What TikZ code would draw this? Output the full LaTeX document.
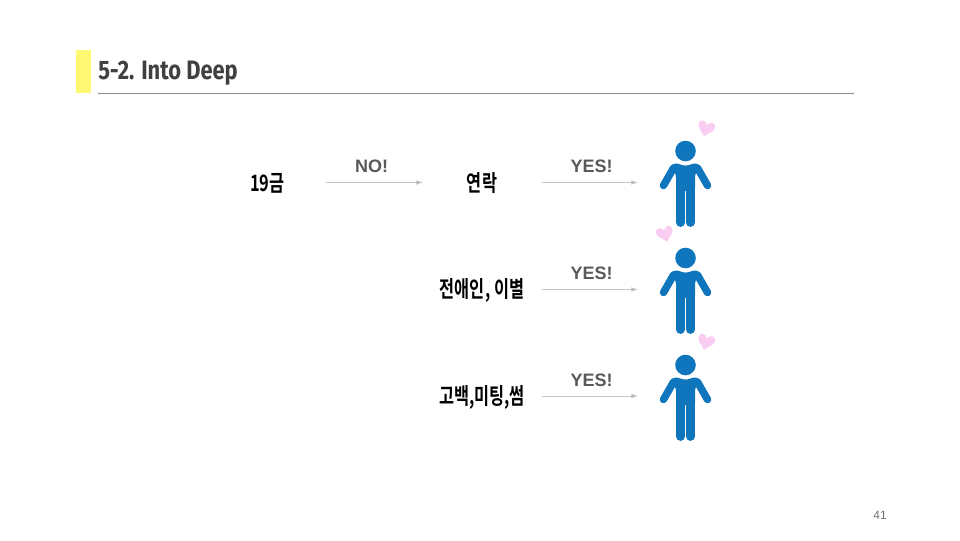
\documentclass[tikz,border=0pt]{standalone}
\usepackage{fontspec}
\usepackage{graphicx}
\setmainfont{Liberation Sans}
\newfontfamily\cjk{Noto Sans CJK KR}[BoldFont={Noto Sans CJK KR Bold}]
\newfontfamily\titlefont{Fira Sans}
\definecolor{personblue}{HTML}{0F75BC}
\definecolor{heartpink}{HTML}{F9CDF1}
\definecolor{arrowgray}{HTML}{C4C4C4}
\definecolor{answergray}{HTML}{595959}
\newcommand{\korean}[2][0.72]{\scalebox{#1}[1]{\cjk\bfseries #2}}
\tikzset{
  word/.style = {font = \fontsize{17}{20}\selectfont, text = black, inner sep = 0pt},
  answer/.style = {font = \bfseries\fontsize{13.5}{16}\selectfont, text = answergray, inner sep = 0pt},
  link/.style = {draw = arrowgray, line width = 0.6pt, -{Latex[length = 5pt, width = 3.5pt, fill = arrowgray!90!black]}},
  person/.pic = {
    \fill[personblue] (0, 0) circle (10.3);
    % arms
    \draw[personblue, line width = 5.6pt, line cap = round] (-12, 17) -- (-22, 34.5);
    \draw[personblue, line width = 5.6pt, line cap = round] ( 12, 17) -- ( 22, 34.5);
    % torso with its collar
    \fill[personblue, rounded corners = 2pt] (-10, 12) -- (0, 15) -- (10, 12) -- (14, 14) -- (9.5, 24)
      -- (9.5, 40) -- (-9.5, 40) -- (-9.5, 24) -- (-14, 14) -- cycle;
    % legs
    \draw[personblue, line width = 6.6pt, line cap = round] (-4.9, 38) -- (-4.9, 71.5);
    \draw[personblue, line width = 6.6pt, line cap = round] ( 4.9, 38) -- ( 4.9, 71.5);
  },
  heart/.pic = {
    \fill[heartpink] (0, 8) .. controls (-4, 3) and (-9, 1) .. (-8.5, -3.5)
      .. controls (-8, -8) and (-2, -8.5) .. (0, -3.5)
      .. controls (2, -8.5) and (8, -8) .. (8.5, -3.5)
      .. controls (9, 1) and (4, 3) .. (0, 8) -- cycle;
  }
}
\usetikzlibrary{arrows.meta}
\begin{document}
\begin{tikzpicture}[x = 0.75pt, y = -0.75pt]
  \useasboundingbox (0, 0) rectangle (960, 540);
  % title bar
  \fill[yellow!55!white] (75.5, 50) rectangle (90.5, 93) coordinate (barcorner);
  \node[anchor = west, inner sep = 0pt, text = black!75, font = \fontsize{20}{24}\selectfont] (title) at (98, 73)
    {\scalebox{0.82}[1]{\titlefont\bfseries 5-2. Into Deep}};
  \draw[black!45, line width = 0.7pt] (98, 93.5) coordinate (rulestart) -- (854, 93.5) coordinate (ruleend);

  % first row
  \node[word] (nineteen) at (267.5, 183) {\korean{19금}};
  \node[word] (contact) at (482, 183) {\korean{연락}};
  \coordinate (nostart) at (326, 182.5);
  \coordinate (noend) at (423, 182.5);
  \coordinate (yesastart) at (542, 182.5);
  \coordinate (yesaend) at (638, 182.5);
  \draw[link] (nostart) -- (noend);
  \draw[link] (yesastart) -- (yesaend);
  \node[answer] (no) at (371.5, 166.5) {NO!};
  \node[answer] (yesa) at (591.5, 166.5) {YES!};

  % second row
  \node[word] (ex) at (482, 290) {\korean{전애인, 이별}};
  \coordinate (yesbstart) at (542, 289.5);
  \coordinate (yesbend) at (638, 289.5);
  \draw[link] (yesbstart) -- (yesbend);
  \node[answer] (yesb) at (591.5, 273.5) {YES!};

  % third row
  \node[word] (confess) at (482, 397) {\korean{고백,미팅,썸}};
  \coordinate (yescstart) at (542, 396);
  \coordinate (yescend) at (638, 396);
  \draw[link] (yescstart) -- (yescend);
  \node[answer] (yesc) at (591.5, 380) {YES!};

  % people and hearts
  \pic at (685.5, 151) {person};
  \pic at (685.5, 258) {person};
  \pic at (685.5, 365) {person};
  \pic[rotate = -15] at (706, 128.5) {heart};
  \pic[rotate = 15] at (665, 234) {heart};
  \pic[rotate = -15] at (706, 342) {heart};

  \node[inner sep = 0pt, text = black!55, font = \fontsize{9}{11}\selectfont] (pagenum) at (880, 515) {41};
\end{tikzpicture}
\end{document}
